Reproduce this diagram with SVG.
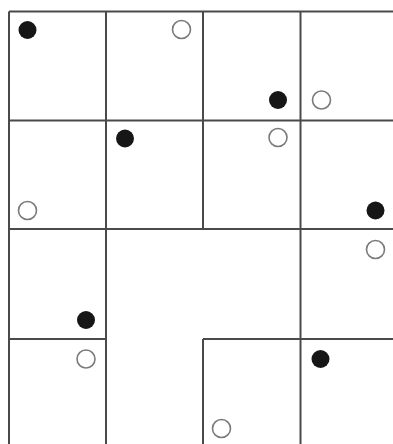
<svg xmlns="http://www.w3.org/2000/svg" width="393" height="444" viewBox="0 0 393 444">
<style>
.ln{stroke:#4a4a4a;stroke-width:2;fill:none}
.b{fill:#161616}
.w{fill:#fff;stroke:#7a7a7a;stroke-width:1.6}
</style>
<rect width="393" height="444" fill="#fff"/>
<g id="grid" class="ln">
<line x1="9" y1="11.5" x2="393" y2="11.5"/>
<line x1="9" y1="11.5" x2="9" y2="444"/>
<line x1="106" y1="11.5" x2="106" y2="444"/>
<line x1="203" y1="11.5" x2="203" y2="229"/>
<line x1="203" y1="339" x2="203" y2="444"/>
<line x1="300.5" y1="11.5" x2="300.5" y2="444"/>
<line x1="9" y1="120.5" x2="393" y2="120.5"/>
<line x1="9" y1="229" x2="393" y2="229"/>
<line x1="9" y1="339" x2="106" y2="339"/>
<line x1="203" y1="339" x2="393" y2="339"/>
</g>
<g id="dots">
<circle class="b" cx="27.5" cy="30" r="9"/>
<circle class="w" cx="181.5" cy="29.5" r="9"/>
<circle class="b" cx="278" cy="100" r="9"/>
<circle class="w" cx="321.5" cy="100" r="9"/>
<circle class="b" cx="125" cy="138.5" r="9"/>
<circle class="w" cx="278" cy="137.5" r="9"/>
<circle class="w" cx="27.5" cy="210.5" r="9"/>
<circle class="b" cx="375.5" cy="210.5" r="9"/>
<circle class="w" cx="375.5" cy="249.5" r="9"/>
<circle class="b" cx="86" cy="320" r="9"/>
<circle class="w" cx="86" cy="359" r="9"/>
<circle class="b" cx="320.5" cy="359" r="9"/>
<circle class="w" cx="221.5" cy="428.5" r="9"/>
</g>
</svg>
